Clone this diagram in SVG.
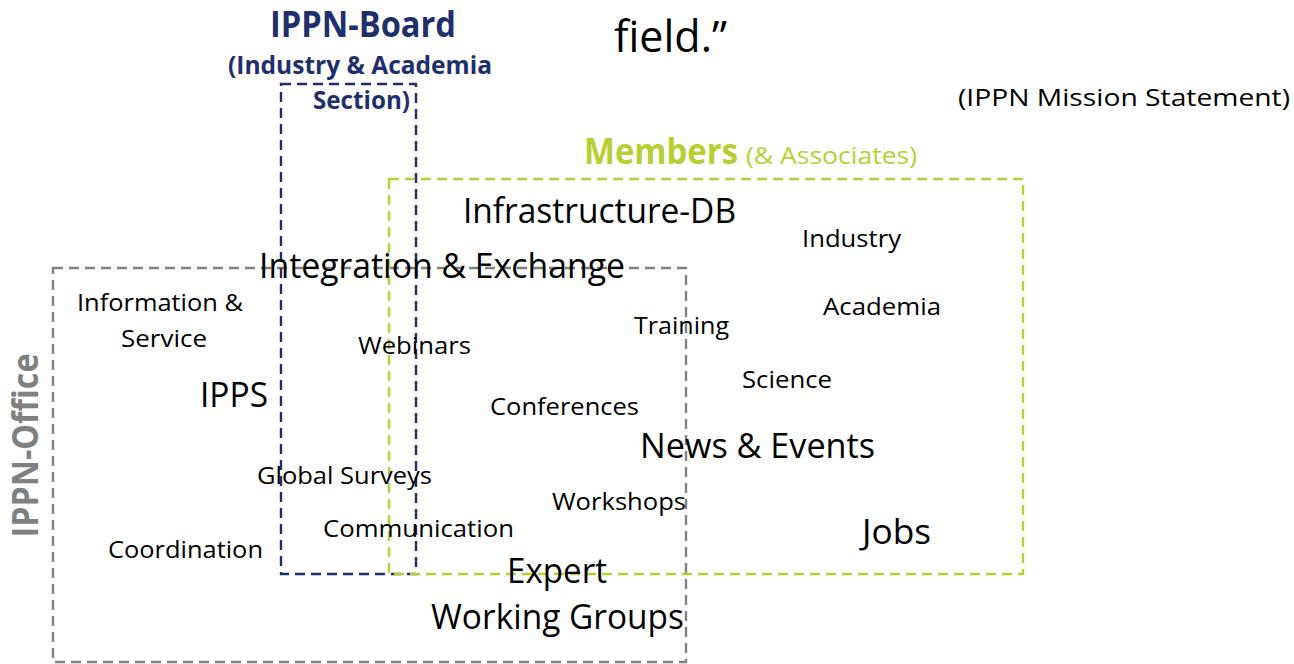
<svg xmlns="http://www.w3.org/2000/svg" width="1294" height="664" viewBox="0 0 1294 664">
  <style>
    text { font-family: "Open Sans", "Noto Sans", "DejaVu Sans", sans-serif; fill: #000; }
    .s { font-size: 24px; }
    .m { font-size: 25px; }
    .l { font-size: 35px; }
    .board { fill: #1f2f6b; font-weight: bold; }
    .member { fill: #b8cf33; }
    .office { fill: #808080; font-weight: bold; }
    .frame { fill: none; stroke-width: 2.4; stroke-dasharray: 10 6; }
  </style>
  <rect width="1294" height="664" fill="#fff"/>

  <!-- dashed areas -->
  <g id="areas">
    <rect id="office-area" class="frame" x="53" y="268" width="633" height="394" stroke="#808080"/>
    <rect id="board-area" class="frame" x="281" y="84" width="135" height="490" stroke="#1f2f6b"/>
    <rect id="members-area" class="frame" x="389" y="179" width="634" height="395" stroke="#b8cf33"/>
  </g>
  <g id="connectors"/>

  <g id="labels" transform="translate(0 1.5)">
    <!-- headings -->
    <g id="quote">
      <text x="614" y="50" font-size="44" textLength="113" lengthAdjust="spacingAndGlyphs">field.”</text>
      <text class="s" x="958" y="104" textLength="332" lengthAdjust="spacingAndGlyphs">(IPPN Mission Statement)</text>
    </g>
    <g id="board">
      <text class="board l" x="270" y="35" textLength="186" lengthAdjust="spacingAndGlyphs">IPPN-Board</text>
      <text class="board m" x="228" y="72" textLength="264" lengthAdjust="spacingAndGlyphs">(Industry &amp; Academia</text>
      <text class="board m" x="313" y="107" textLength="97" lengthAdjust="spacingAndGlyphs">Section)</text>
    </g>
    <g id="members">
      <text class="member l" x="584" y="162" font-weight="bold" textLength="154" lengthAdjust="spacingAndGlyphs">Members</text>
      <text class="member s" x="746" y="162" textLength="171" lengthAdjust="spacingAndGlyphs">(&amp; Associates)</text>
    </g>
    <g id="office">
      <text class="office l" transform="translate(38 536) rotate(-90)" textLength="184" lengthAdjust="spacingAndGlyphs">IPPN-Office</text>
    </g>

    <!-- activities -->
    <g id="infrastructure-db"><text class="l" x="463" y="221" textLength="273" lengthAdjust="spacingAndGlyphs">Infrastructure-DB</text></g>
    <g id="industry"><text class="s" x="802" y="245" textLength="99" lengthAdjust="spacingAndGlyphs">Industry</text></g>
    <g id="integration"><text class="l" x="259" y="276" textLength="366" lengthAdjust="spacingAndGlyphs">Integration &amp; Exchange</text></g>
    <g id="information">
      <text class="s" x="77" y="309" textLength="166" lengthAdjust="spacingAndGlyphs">Information &amp;</text>
      <text class="s" x="121" y="345" textLength="86" lengthAdjust="spacingAndGlyphs">Service</text>
    </g>
    <g id="academia"><text class="s" x="823" y="313" textLength="118" lengthAdjust="spacingAndGlyphs">Academia</text></g>
    <g id="training"><text class="s" x="634" y="332" textLength="95" lengthAdjust="spacingAndGlyphs">Training</text></g>
    <g id="webinars"><text class="s" x="358" y="352" textLength="113" lengthAdjust="spacingAndGlyphs">Webinars</text></g>
    <g id="ipps"><text class="l" x="200" y="405" textLength="68" lengthAdjust="spacingAndGlyphs">IPPS</text></g>
    <g id="science"><text class="s" x="742" y="386" textLength="90" lengthAdjust="spacingAndGlyphs">Science</text></g>
    <g id="conferences"><text class="s" x="490" y="413" textLength="149" lengthAdjust="spacingAndGlyphs">Conferences</text></g>
    <g id="news-events"><text class="l" x="640" y="456" textLength="235" lengthAdjust="spacingAndGlyphs">News &amp; Events</text></g>
    <g id="global-surveys"><text class="s" x="257" y="482" textLength="175" lengthAdjust="spacingAndGlyphs">Global Surveys</text></g>
    <g id="workshops"><text class="s" x="552" y="508" textLength="134" lengthAdjust="spacingAndGlyphs">Workshops</text></g>
    <g id="communication"><text class="s" x="323" y="535" textLength="191" lengthAdjust="spacingAndGlyphs">Communication</text></g>
    <g id="coordination"><text class="s" x="108" y="556" textLength="155" lengthAdjust="spacingAndGlyphs">Coordination</text></g>
    <g id="jobs"><text class="l" x="862" y="542" textLength="69" lengthAdjust="spacingAndGlyphs">Jobs</text></g>
    <g id="expert-groups">
      <text class="l" x="507" y="581" textLength="100" lengthAdjust="spacingAndGlyphs">Expert</text>
      <text class="l" x="431" y="627" textLength="253" lengthAdjust="spacingAndGlyphs">Working Groups</text>
    </g>
  </g>
</svg>
